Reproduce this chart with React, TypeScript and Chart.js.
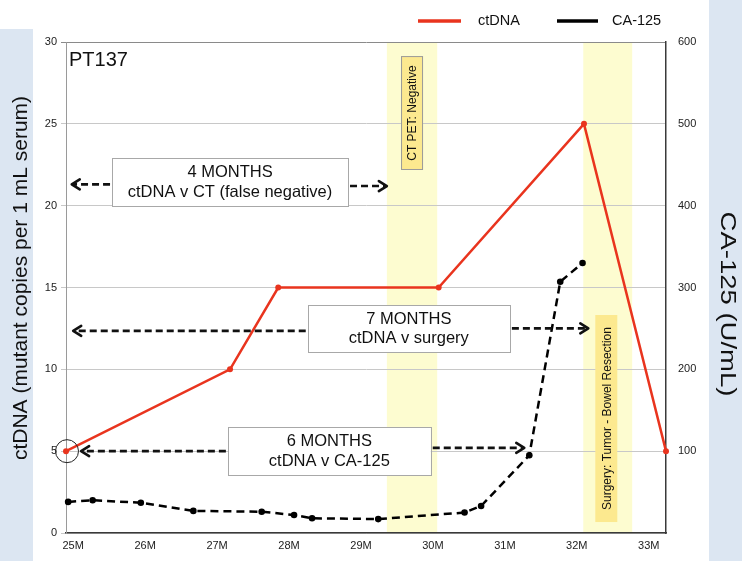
import React, { useEffect, useRef } from "react";
import { Chart, registerables } from "chart.js";

Chart.register(...registerables);

const FONT = "'Liberation Sans', Arial, Helvetica, sans-serif";

// ---- data ----
const ctdnaMonths = [24.9, 27.18, 27.85, 30.08, 32.1, 33.24];
const ctdnaValues = [5, 10, 15, 15, 25, 5];

const ca125Months = [24.93, 25.27, 25.94, 26.67, 27.62, 28.07, 28.32, 29.24, 30.44, 30.67, 31.34, 31.77, 32.08];
const ca125Values = [38, 40, 37, 27, 26, 22, 18, 17, 25, 33, 95, 307, 330];

const monthTicks = [25, 26, 27, 28, 29, 30, 31, 32, 33];
const monthLabels = ["25M", "26M", "27M", "28M", "29M", "30M", "31M", "32M", "33M"];

const shadedStart = [29.36, 32.09];
const shadedEnd = [30.06, 32.77];
const shadedLabels = ["CT PET: Negative", "Surgery: Tumor - Bowel Resection"];

const noteTitles = ["4 MONTHS", "7 MONTHS", "6 MONTHS"];
const noteSubtitles = ["ctDNA v CT (false negative)", "ctDNA v surgery", "ctDNA v CA-125"];

// ---- annotation layout (data units) ----
const noteLayout = [
  { x0: 25.54, x1: 28.82, yTop: 22.91, yBot: 19.98, lY: 21.3, lTo: 24.98, rY: 21.2, rTo: 29.36 },
  { x0: 28.26, x1: 31.07, yTop: 13.93, yBot: 11.06, lY: 12.35, lTo: 25.0, rY: 12.5, rTo: 32.16 },
  { x0: 27.15, x1: 29.97, yTop: 6.48, yBot: 3.54, lY: 5.0, lTo: 25.11, rY: 5.2, rTo: 31.27 },
];
const bandLabelLayout = [
  { cx: 29.71, yTop: 29.14, yBot: 22.18, border: true },
  { cx: 32.41, yTop: 13.32, yBot: 0.67, border: false },
];

const RED = "rgb(233,52,30)";

function dashedArrow(ctx: CanvasRenderingContext2D, x0: number, y0: number, x1: number, y1: number) {
  const dir = Math.sign(x1 - x0);
  ctx.save();
  ctx.strokeStyle = "#111";
  ctx.lineWidth = 2.6;
  ctx.setLineDash([7, 4]);
  ctx.beginPath();
  ctx.moveTo(x0, y0);
  ctx.lineTo(x1 - dir * 2, y1);
  ctx.stroke();
  ctx.setLineDash([]);
  ctx.lineCap = "round";
  ctx.lineJoin = "round";
  ctx.beginPath();
  ctx.moveTo(x1 - dir * 8, y1 - 5);
  ctx.lineTo(x1, y1);
  ctx.lineTo(x1 - dir * 8, y1 + 5);
  ctx.stroke();
  ctx.restore();
}

const decorPlugin = {
  id: "decor",
  beforeDraw(chart: any) {
    const ctx = chart.ctx as CanvasRenderingContext2D;
    const xs = chart.scales.x;
    const ca = chart.chartArea;
    ctx.save();
    ctx.fillStyle = "#dce6f2";
    ctx.fillRect(0, 29, 33, 561 - 29);
    ctx.fillRect(709, 0, 33, 561);
    ctx.fillStyle = "#fdfcd0";
    for (let i = 0; i < shadedStart.length; i++) {
      const a = xs.getPixelForValue(shadedStart[i]);
      const b = xs.getPixelForValue(shadedEnd[i]);
      ctx.fillRect(a, ca.top, b - a, ca.bottom - ca.top);
    }
    ctx.restore();
  },
  beforeDatasetsDraw(chart: any) {
    const ctx = chart.ctx as CanvasRenderingContext2D;
    const xs = chart.scales.x;
    const ys = chart.scales.y;
    ctx.save();
    for (let i = 0; i < shadedLabels.length; i++) {
      const L = bandLabelLayout[i];
      const cx = xs.getPixelForValue(L.cx);
      const t = ys.getPixelForValue(L.yTop);
      const b = ys.getPixelForValue(L.yBot);
      ctx.fillStyle = "#fce98f";
      ctx.fillRect(cx - 11, t, 22, b - t);
      if (L.border) {
        ctx.strokeStyle = "#9a9a9a";
        ctx.lineWidth = 1;
        ctx.strokeRect(cx - 10.5, t + 0.5, 21, b - t - 1);
      }
      ctx.save();
      ctx.translate(cx + 1, (t + b) / 2);
      ctx.rotate(-Math.PI / 2);
      ctx.fillStyle = "#111";
      ctx.font = `12px ${FONT}`;
      ctx.textAlign = "center";
      ctx.textBaseline = "middle";
      ctx.fillText(shadedLabels[i], 0, 0);
      ctx.restore();
    }
    ctx.restore();
  },
  afterDatasetsDraw(chart: any) {
    const ctx = chart.ctx as CanvasRenderingContext2D;
    const xs = chart.scales.x;
    const ys = chart.scales.y;
    ctx.save();
    for (let i = 0; i < noteTitles.length; i++) {
      const L = noteLayout[i];
      const x0 = xs.getPixelForValue(L.x0);
      const x1 = xs.getPixelForValue(L.x1);
      const t = ys.getPixelForValue(L.yTop);
      const b = ys.getPixelForValue(L.yBot);
      dashedArrow(ctx, x0 - 2, ys.getPixelForValue(L.lY), xs.getPixelForValue(L.lTo), ys.getPixelForValue(L.lY));
      dashedArrow(ctx, x1 + 2, ys.getPixelForValue(L.rY), xs.getPixelForValue(L.rTo), ys.getPixelForValue(L.rY));
      ctx.fillStyle = "#fff";
      ctx.fillRect(x0, t, x1 - x0, b - t);
      ctx.strokeStyle = "#a8a8a8";
      ctx.lineWidth = 1;
      ctx.strokeRect(Math.round(x0) + 0.5, Math.round(t) + 0.5, Math.round(x1 - x0), Math.round(b - t));
      ctx.fillStyle = "#111";
      ctx.font = `16.5px ${FONT}`;
      ctx.textAlign = "center";
      ctx.textBaseline = "middle";
      const cx = (x0 + x1) / 2;
      const cy = (t + b) / 2;
      ctx.fillText(noteTitles[i], cx, cy - 9.5);
      ctx.fillText(noteSubtitles[i], cx, cy + 10);
    }
    // circle around first ctDNA point
    const p = chart.getDatasetMeta(0).data[0];
    ctx.strokeStyle = "#222";
    ctx.lineWidth = 1;
    ctx.beginPath();
    ctx.arc(p.x + 1, p.y, 11.5, 0, Math.PI * 2);
    ctx.stroke();
    ctx.restore();
  },
  afterDraw(chart: any) {
    const ctx = chart.ctx as CanvasRenderingContext2D;
    ctx.save();
    // PT137
    ctx.fillStyle = "#111";
    ctx.font = `20px ${FONT}`;
    ctx.textAlign = "left";
    ctx.textBaseline = "alphabetic";
    ctx.fillText("PT137", 69, 66);
    // legend
    ctx.lineWidth = 3.5;
    ctx.strokeStyle = RED;
    ctx.beginPath();
    ctx.moveTo(418, 21);
    ctx.lineTo(461, 21);
    ctx.stroke();
    ctx.strokeStyle = "#000";
    ctx.beginPath();
    ctx.moveTo(557, 21);
    ctx.lineTo(598, 21);
    ctx.stroke();
    ctx.font = `14.5px ${FONT}`;
    ctx.textBaseline = "middle";
    ctx.fillStyle = "#111";
    ctx.fillText("ctDNA", 478, 21);
    ctx.fillText("CA-125", 612, 21);
    // left axis title
    ctx.save();
    ctx.translate(27, 278);
    ctx.rotate(-Math.PI / 2);
    ctx.font = `21px ${FONT}`;
    ctx.textAlign = "center";
    ctx.textBaseline = "alphabetic";
    ctx.fillText("ctDNA (mutant copies per 1 mL serum)", 0, 0);
    ctx.restore();
    // right axis title
    ctx.save();
    ctx.translate(727, 304);
    ctx.rotate(Math.PI / 2);
    ctx.scale(1.25, 1);
    ctx.font = `22px ${FONT}`;
    ctx.textAlign = "center";
    ctx.textBaseline = "middle";
    ctx.fillText("CA-125 (U/mL)", 0, 0);
    ctx.restore();
    ctx.restore();
  },
};

export default function App() {
  const ref = useRef<HTMLCanvasElement | null>(null);
  useEffect(() => {
    if (!ref.current) return;
    const chart = new Chart(ref.current, {
      type: "line",
      data: {
        datasets: [
          {
            label: "ctDNA",
            data: ctdnaMonths.map((m, i) => ({ x: m, y: ctdnaValues[i] })),
            borderColor: RED,
            backgroundColor: RED,
            borderWidth: 2.5,
            pointRadius: 3,
            pointBorderWidth: 0,
            pointBackgroundColor: RED,
            yAxisID: "y",
            tension: 0,
            clip: false as any,
          },
          {
            label: "CA-125",
            data: ca125Months.map((m, i) => ({ x: m, y: ca125Values[i] })),
            borderColor: "#000",
            backgroundColor: "#000",
            borderWidth: 2.5,
            borderDash: [8, 5],
            pointRadius: 3.3,
            pointBorderWidth: 0,
            pointBackgroundColor: "#000",
            yAxisID: "y1",
            tension: 0,
            clip: false as any,
          },
        ],
      },
      options: {
        animation: false,
        responsive: false,
        layout: { padding: { top: 42, left: 0, right: 0, bottom: 0 } },
        plugins: { legend: { display: false }, tooltip: { enabled: false }, title: { display: false } },
        scales: {
          x: {
            type: "linear",
            min: 24.9,
            max: 33.24,
            afterBuildTicks: (s: any) => {
              s.ticks = monthTicks.map((v) => ({ value: v }));
            },
            afterFit: (s: any) => {
              s.height = 28;
            },
            ticks: {
              autoSkip: false,
              maxRotation: 0,
              padding: 6,
              color: "#222",
              font: { family: FONT, size: 11 },
              callback: (v: any) => {
                const i = monthTicks.indexOf(Number(v));
                return i >= 0 ? monthLabels[i] : "";
              },
            },
            grid: { display: false, drawTicks: false },
            border: { display: true, color: "#3a3a3a", width: 1.5 },
          },
          y: {
            type: "linear",
            position: "left",
            min: 0,
            max: 30,
            afterFit: (s: any) => {
              s.width = 66;
            },
            ticks: { stepSize: 5, padding: 4, color: "#222", font: { family: FONT, size: 11 } },
            grid: {
              drawTicks: true,
              tickLength: 5,
              color: (c: any) => (c.tick && c.tick.value === 30 ? "#8a8a8a" : "#c8c8c8"),
              lineWidth: 1,
            },
            border: { display: true, color: "#9a9a9a", width: 1 },
          },
          y1: {
            type: "linear",
            position: "right",
            min: 0,
            max: 600,
            afterFit: (s: any) => {
              s.width = 76;
            },
            ticks: {
              stepSize: 100,
              padding: 12,
              color: "#222",
              font: { family: FONT, size: 11 },
              callback: (v: any) => (Number(v) === 0 ? "" : String(v)),
            },
            grid: { drawOnChartArea: false, drawTicks: false },
            border: { display: true, color: "#3a3a3a", width: 1.5 },
          },
        },
      },
      plugins: [decorPlugin],
    });
    return () => chart.destroy();
  }, []);
  return (
    <div style={{ position: "absolute", left: 0, top: 0, width: 742, height: 561, background: "#fff" }}>
      <canvas ref={ref} width={742} height={561} style={{ display: "block", width: 742, height: 561 }} />
    </div>
  );
}
